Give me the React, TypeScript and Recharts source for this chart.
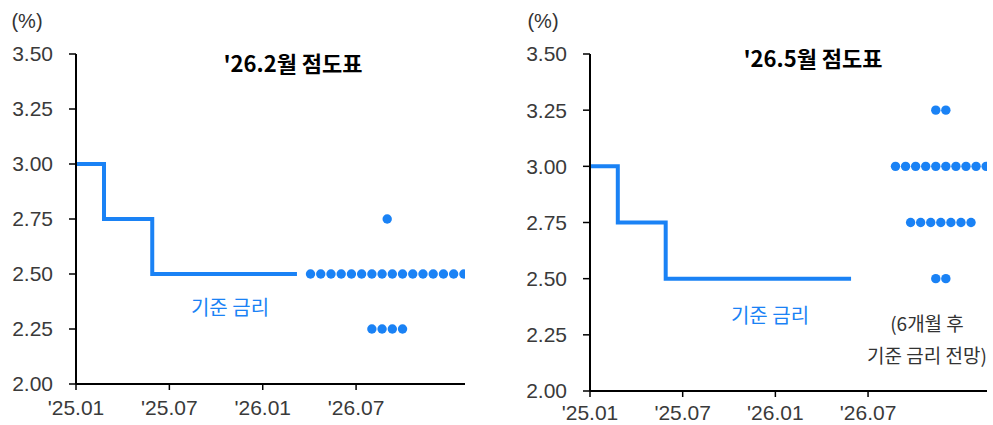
import React from 'react';
import { ComposedChart, Line, Scatter, XAxis, YAxis } from 'recharts';

// months since 2025-01
const monthTicks = [0, 6, 12, 18];
const monthLabels = ["'25.01", "'25.07", "'26.01", "'26.07"];
const rateTicks = [2.0, 2.25, 2.5, 2.75, 3.0, 3.25, 3.5];

// base rate path (cut in late Feb and late May 2025)
const leftRate = [
  { m: 0, v: 3.0 },
  { m: 1.8, v: 2.75 },
  { m: 4.9, v: 2.5 },
  { m: 14.2, v: 2.5 },
];
const rightRate = [
  { m: 0, v: 3.0 },
  { m: 1.8, v: 2.75 },
  { m: 4.9, v: 2.5 },
  { m: 16.9, v: 2.5 },
];

// dot plot: number of dots per rate level
const leftDots = [
  { rate: 2.75, count: 1 },
  { rate: 2.5, count: 16 },
  { rate: 2.25, count: 4 },
];
const rightDots = [
  { rate: 3.25, count: 2 },
  { rate: 3.0, count: 10 },
  { rate: 2.75, count: 7 },
  { rate: 2.5, count: 2 },
];

const BLUE = '#1a82f5';
const NUM_FONT = "'Liberation Sans', Arial, sans-serif";
const KR_FONT = "'Noto Sans CJK KR', 'Noto Sans', sans-serif";

const spreadDots = (rows: { rate: number; count: number }[], center: number, step: number) =>
  rows.flatMap((r) =>
    Array.from({ length: r.count }, (_, i) => ({ m: center + (i - (r.count - 1) / 2) * step, v: r.rate }))
  );

const Dot = (props: any) => <circle cx={props.cx} cy={props.cy} r={4.7} fill={BLUE} />;

type PanelProps = {
  width: number;
  right: number;
  yWidth: number;
  xHeight: number;
  xMax: number;
  rate: { m: number; v: number }[];
  dots: { m: number; v: number }[];
  xTickMargin: number;
};

const Panel = ({ width, right, yWidth, xHeight, xMax, rate, dots, xTickMargin }: PanelProps) => (
  <ComposedChart width={width} height={425} margin={{ top: 54, right, bottom: 0, left: 0 }}>
    <XAxis
      type="number"
      dataKey="m"
      domain={[0, xMax]}
      ticks={monthTicks}
      tickFormatter={(v: number) => monthLabels[monthTicks.indexOf(v)]}
      height={xHeight}
      axisLine={{ stroke: '#000', strokeWidth: 2 }}
      tickLine={{ stroke: '#000', strokeWidth: 1.5 }}
      tickSize={6}
      tickMargin={xTickMargin}
      tick={{ fill: '#3a3a3a', fontSize: 21, fontFamily: NUM_FONT }}
      allowDataOverflow
    />
    <YAxis
      type="number"
      dataKey="v"
      domain={[2, 3.5]}
      ticks={rateTicks}
      tickFormatter={(v: number) => v.toFixed(2)}
      width={yWidth}
      axisLine={{ stroke: '#000', strokeWidth: 2 }}
      tickLine={{ stroke: '#000', strokeWidth: 1.5 }}
      tickSize={7}
      tickMargin={16}
      tick={{ fill: '#3a3a3a', fontSize: 21, fontFamily: NUM_FONT }}
    />
    <Line
      data={rate}
      dataKey="v"
      type="stepAfter"
      stroke={BLUE}
      strokeWidth={4}
      dot={false}
      isAnimationActive={false}
    />
    <Scatter data={dots} dataKey="v" shape={<Dot />} isAnimationActive={false} />
  </ComposedChart>
);

const txt = (x: number, y: number, s: string, style: React.CSSProperties) => (
  <div
    style={{
      position: 'absolute',
      left: x,
      top: y,
      transform: 'translate(-50%, -50%)',
      whiteSpace: 'nowrap',
      lineHeight: 1,
      ...style,
    }}
  >
    {s}
  </div>
);

const App: React.FC = () => {
  const title = { fontFamily: KR_FONT, fontSize: 22, fontWeight: 700, color: '#000' };
  const blueLabel = { fontFamily: KR_FONT, fontSize: 20, color: BLUE };
  const note = { fontFamily: KR_FONT, fontSize: 19, color: '#333' };
  const unit = { fontFamily: NUM_FONT, fontSize: 20, color: '#333' };
  return (
    <div style={{ position: 'absolute', left: 0, top: 0, width: 993, height: 425, background: '#fff', overflow: 'hidden' }}>
      <div style={{ position: 'absolute', left: 0, top: 0 }}>
        <Panel width={480} right={15} yWidth={76} xHeight={41} xMax={25} rate={leftRate} dots={spreadDots(leftDots, 20, 0.657)} xTickMargin={10} />
      </div>
      <div style={{ position: 'absolute', left: 500, top: 0 }}>
        <Panel width={493} right={6} yWidth={90} xHeight={34} xMax={25.7} rate={rightRate} dots={spreadDots(rightDots, 22.71, 0.652)} xTickMargin={8} />
      </div>
      {txt(27, 21, '(%)', unit)}
      {txt(543, 21, '(%)', unit)}
      {txt(293, 62, "'26.2월 점도표", title)}
      {txt(813, 57, "'26.5월 점도표", title)}
      {txt(230, 307, '기준 금리', blueLabel)}
      {txt(770, 315, '기준 금리', blueLabel)}
      {txt(927, 322, '(6개월 후', note)}
      {txt(927, 354, '기준 금리 전망)', note)}
    </div>
  );
};

export default App;
